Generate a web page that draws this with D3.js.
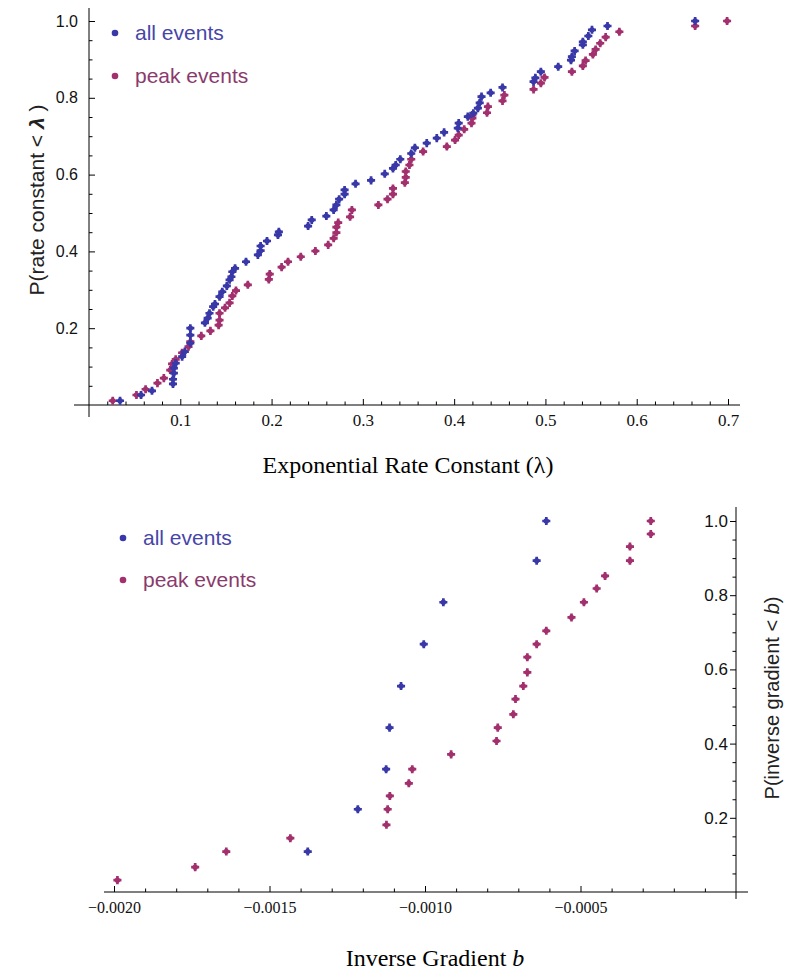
<!DOCTYPE html>
<html>
<head>
<meta charset="utf-8">
<script src="https://cdn.jsdelivr.net/npm/d3@7"></script>
<style>
  body { margin: 0; background: #fff; }
  svg { display: block; }
  .axis path, .axis line { stroke: #000; stroke-width: 1; }
</style>
</head>
<body>
<svg id="chart" width="785" height="974"></svg>
<script>
// ---- data: top panel (rate constant lambda, cumulative P) ----
let allLambda = [0.034,0.057,0.069,0.092,0.092,0.093,0.093,0.095,0.102,0.105,0.111,0.111,0.111,0.127,0.130,0.132,0.136,0.138,0.143,0.146,0.151,0.154,0.156,0.157,0.160,0.172,0.185,0.188,0.188,0.195,0.207,0.208,0.240,0.244,0.260,0.268,0.271,0.274,0.280,0.280,0.292,0.309,0.324,0.333,0.336,0.341,0.353,0.357,0.370,0.381,0.389,0.404,0.405,0.415,0.421,0.426,0.428,0.430,0.440,0.453,0.487,0.489,0.495,0.514,0.528,0.529,0.532,0.541,0.541,0.547,0.551,0.568,0.664];
let allLambdaP = [0.011,0.026,0.037,0.055,0.067,0.083,0.096,0.109,0.126,0.139,0.161,0.182,0.200,0.214,0.226,0.239,0.256,0.263,0.282,0.295,0.310,0.326,0.334,0.347,0.356,0.373,0.391,0.402,0.414,0.427,0.443,0.451,0.466,0.482,0.492,0.508,0.521,0.536,0.549,0.560,0.576,0.585,0.602,0.616,0.625,0.640,0.655,0.670,0.682,0.695,0.710,0.721,0.734,0.751,0.760,0.773,0.787,0.803,0.813,0.827,0.842,0.852,0.868,0.881,0.898,0.907,0.922,0.938,0.946,0.961,0.977,0.987,1.000];
let peakLambda = [0.026,0.052,0.062,0.075,0.082,0.089,0.091,0.095,0.102,0.109,0.111,0.123,0.133,0.142,0.143,0.143,0.149,0.154,0.157,0.161,0.174,0.197,0.198,0.211,0.218,0.232,0.248,0.262,0.268,0.271,0.271,0.273,0.286,0.288,0.317,0.327,0.333,0.333,0.346,0.347,0.347,0.351,0.353,0.366,0.392,0.401,0.405,0.411,0.419,0.420,0.420,0.436,0.437,0.453,0.455,0.487,0.495,0.499,0.529,0.541,0.544,0.552,0.555,0.560,0.566,0.581,0.664,0.699];
let peakLambdaP = [0.011,0.026,0.041,0.057,0.070,0.091,0.107,0.119,0.136,0.152,0.165,0.180,0.193,0.208,0.221,0.239,0.253,0.266,0.284,0.298,0.313,0.327,0.341,0.359,0.373,0.386,0.401,0.417,0.434,0.449,0.463,0.475,0.490,0.508,0.521,0.536,0.549,0.564,0.579,0.593,0.608,0.625,0.640,0.660,0.673,0.690,0.703,0.718,0.734,0.747,0.755,0.761,0.777,0.792,0.807,0.822,0.838,0.853,0.868,0.883,0.897,0.913,0.926,0.942,0.958,0.972,0.987,1.000];

// ---- data: bottom panel (inverse gradient b, cumulative P) ----
let allB = [-0.001377,-0.001216,-0.001125,-0.001114,-0.001077,-0.001004,-0.000941,-0.000641,-0.000610];
let allBP = [0.109,0.223,0.331,0.443,0.555,0.668,0.781,0.893,1.000];
let peakB = [-0.001989,-0.001739,-0.001639,-0.001433,-0.001124,-0.001120,-0.001113,-0.001052,-0.001041,-0.000916,-0.000770,-0.000766,-0.000716,-0.000709,-0.000684,-0.000671,-0.000671,-0.000641,-0.000610,-0.000529,-0.000489,-0.000448,-0.000421,-0.000341,-0.000341,-0.000274,-0.000274];
let peakBP = [0.032,0.067,0.109,0.145,0.181,0.223,0.259,0.293,0.331,0.371,0.407,0.443,0.479,0.520,0.555,0.592,0.633,0.668,0.704,0.740,0.781,0.818,0.852,0.893,0.931,0.965,1.000];

// ---- tick values ----
let lambdaTicks = [0.1,0.2,0.3,0.4,0.5,0.6,0.7];
let probTicks = [0.2,0.4,0.6,0.8,1.0];
let bTicks = [-0.0020,-0.0015,-0.0010,-0.0005];

let seriesNames = ["all events", "peak events"];
let colors = ["#3838a8", "#a3306e"];
let textColors = ["#4646a8", "#8a3a6c"];

let svg = d3.select("#chart");

// small blob marker: disc + cross
function marker(g, pts, color) {
    let cross = d3.symbol().type(d3.symbolCross).size(36);
    let sel = g.selectAll(null).data(pts).join("g")
        .attr("transform", d => `translate(${d[0]},${d[1]})`);
    sel.append("path").attr("d", cross).attr("fill", color);
    sel.append("circle").attr("r", 2.7).attr("fill", color);
}

function legend(x, y, gap) {
    seriesNames.forEach(function(name, i) {
        svg.append("circle")
            .attr("cx", x).attr("cy", y + i * gap)
            .attr("r", 3.3).attr("fill", colors[i]);
        svg.append("text")
            .attr("x", x + 20).attr("y", y + i * gap + 7)
            .attr("font-family", "Liberation Sans, Arial, sans-serif")
            .attr("font-size", 21)
            .attr("fill", textColors[i])
            .text(name);
    });
}

function minorTicks(from, to, step, skip) {
    let out = [];
    for (let i = Math.round(from / step); i <= Math.round(to / step); i++) {
        let v = +(i * step).toFixed(6);
        if (!skip.some(s => Math.abs(s - v) < step / 10)) out.push(v);
    }
    return out;
}

// ================= TOP PANEL =================
let x1 = d3.scaleLinear().domain([0, 0.7]).range([89, 728]);
let y1 = d3.scaleLinear().domain([0, 1]).range([405, 21]);

let topPanel = svg.append("g");

// x axis: ticks point up into plot
let xAxis1 = topPanel.append("g").attr("class", "axis")
    .attr("transform", `translate(0,${y1(0)})`)
    .call(d3.axisBottom(x1).tickValues(lambdaTicks).tickSizeInner(-6).tickSizeOuter(0).tickPadding(9).tickFormat(d3.format(".1f")));
xAxis1.select(".domain").remove();
topPanel.append("g").attr("class", "axis")
    .attr("transform", `translate(0,${y1(0)})`)
    .call(d3.axisBottom(x1).tickValues(minorTicks(0.02, 0.7, 0.02, lambdaTicks)).tickSizeInner(-3.5).tickSizeOuter(0).tickFormat(""))
    .select(".domain").remove();
topPanel.append("line").attr("x1", 74).attr("x2", 740).attr("y1", y1(0)).attr("y2", y1(0)).attr("stroke", "#000");
xAxis1.selectAll("text")
    .attr("font-family", "Liberation Serif, Times New Roman, serif")
    .attr("font-size", 17).attr("fill", "#111");

// y axis: ticks point right into plot
let yAxis1 = topPanel.append("g").attr("class", "axis")
    .attr("transform", `translate(${x1(0)},0)`)
    .call(d3.axisLeft(y1).tickValues(probTicks).tickSizeInner(-6).tickSizeOuter(0).tickPadding(11).tickFormat(d3.format(".1f")));
yAxis1.select(".domain").remove();
topPanel.append("g").attr("class", "axis")
    .attr("transform", `translate(${x1(0)},0)`)
    .call(d3.axisLeft(y1).tickValues(minorTicks(0.05, 1, 0.05, probTicks)).tickSizeInner(-3.5).tickSizeOuter(0).tickFormat(""))
    .select(".domain").remove();
topPanel.append("line").attr("x1", x1(0)).attr("x2", x1(0)).attr("y1", 8).attr("y2", 417).attr("stroke", "#000");
yAxis1.selectAll("text")
    .attr("font-family", "Liberation Sans, Arial, sans-serif")
    .attr("font-size", 16).attr("fill", "#111");

marker(topPanel.append("g"), peakLambda.map((v, i) => [x1(v), y1(peakLambdaP[i])]), colors[1]);
marker(topPanel.append("g"), allLambda.map((v, i) => [x1(v), y1(allLambdaP[i])]), colors[0]);

topPanel.append("text")
    .attr("x", 408).attr("y", 473)
    .attr("text-anchor", "middle")
    .attr("font-family", "Liberation Serif, Times New Roman, serif")
    .attr("font-size", 24)
    .text("Exponential Rate Constant (λ)");

let yl1 = topPanel.append("text")
    .attr("transform", "translate(44,200) rotate(-90)")
    .attr("text-anchor", "middle")
    .attr("font-family", "Liberation Sans, Arial, sans-serif")
    .attr("font-size", 21).attr("fill", "#222");
yl1.append("tspan").text("P(rate constant < ");
yl1.append("tspan").attr("font-style", "italic").attr("font-weight", "bold").text("λ");
yl1.append("tspan").text(" )");

legend(115, 33, 43);

// ================= BOTTOM PANEL =================
let x2 = d3.scaleLinear().domain([-0.002, 0]).range([114, 736]);
let y2 = d3.scaleLinear().domain([0, 1]).range([892, 521]);

let botPanel = svg.append("g");

let xAxis2 = botPanel.append("g").attr("class", "axis")
    .attr("transform", `translate(0,${y2(0)})`)
    .call(d3.axisBottom(x2).tickValues(bTicks).tickSizeInner(-6).tickSizeOuter(0).tickPadding(10).tickFormat(d3.format(".4f")));
xAxis2.select(".domain").remove();
botPanel.append("g").attr("class", "axis")
    .attr("transform", `translate(0,${y2(0)})`)
    .call(d3.axisBottom(x2).tickValues(minorTicks(-0.002, -0.0001, 0.0001, bTicks)).tickSizeInner(-3.5).tickSizeOuter(0).tickFormat(""))
    .select(".domain").remove();
botPanel.append("line").attr("x1", 104).attr("x2", 748).attr("y1", y2(0)).attr("y2", y2(0)).attr("stroke", "#000");
xAxis2.selectAll("text")
    .attr("font-family", "Liberation Serif, Times New Roman, serif")
    .attr("font-size", 16).attr("fill", "#111");

// y axis on the right, ticks point left into plot
let yAxis2 = botPanel.append("g").attr("class", "axis")
    .attr("transform", `translate(${x2(0)},0)`)
    .call(d3.axisLeft(y2).tickValues(probTicks).tickSizeInner(6).tickSizeOuter(0).tickPadding(2).tickFormat(d3.format(".1f")));
yAxis2.select(".domain").remove();
botPanel.append("g").attr("class", "axis")
    .attr("transform", `translate(${x2(0)},0)`)
    .call(d3.axisLeft(y2).tickValues(minorTicks(0.05, 1, 0.05, probTicks)).tickSizeInner(3.5).tickSizeOuter(0).tickFormat(""))
    .select(".domain").remove();
botPanel.append("line").attr("x1", x2(0)).attr("x2", x2(0)).attr("y1", 507).attr("y2", 899).attr("stroke", "#000");
yAxis2.selectAll("text")
    .attr("font-family", "Liberation Sans, Arial, sans-serif")
    .attr("font-size", 17).attr("fill", "#111");

marker(botPanel.append("g"), peakB.map((v, i) => [x2(v), y2(peakBP[i])]), colors[1]);
marker(botPanel.append("g"), allB.map((v, i) => [x2(v), y2(allBP[i])]), colors[0]);

let xl2 = botPanel.append("text")
    .attr("x", 435).attr("y", 966)
    .attr("text-anchor", "middle")
    .attr("font-family", "Liberation Serif, Times New Roman, serif")
    .attr("font-size", 24);
xl2.append("tspan").text("Inverse Gradient ");
xl2.append("tspan").attr("font-style", "italic").text("b");

let yl2 = botPanel.append("text")
    .attr("transform", "translate(779,698) rotate(-90)")
    .attr("text-anchor", "middle")
    .attr("font-family", "Liberation Sans, Arial, sans-serif")
    .attr("font-size", 20).attr("fill", "#222");
yl2.append("tspan").text("P(inverse gradient < ");
yl2.append("tspan").attr("font-style", "italic").text("b");
yl2.append("tspan").text(")");

legend(123, 538, 42);
</script>
</body>
</html>
